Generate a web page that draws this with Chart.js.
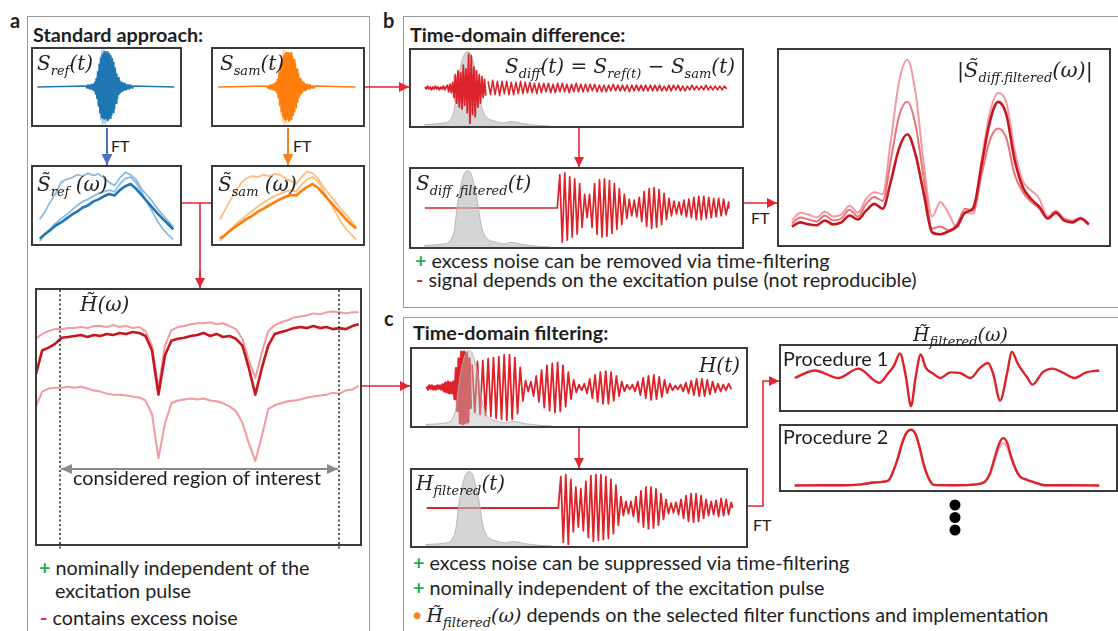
<!DOCTYPE html>
<html><head><meta charset="utf-8">
<script src="https://cdn.jsdelivr.net/npm/chart.js@4.4.1/dist/chart.umd.min.js"></script>
<style>
html,body{margin:0;padding:0;background:#fff;}
#root{position:relative;width:1118px;height:631px;overflow:hidden;font-family:Lato,"Open Sans",sans-serif;color:#1e1e1e;background:#fff;}
.panel{position:absolute;border:1.5px solid #9a9a9a;box-sizing:border-box;}
.box{position:absolute;border:2px solid #3a3a3a;box-sizing:border-box;background:#fff;}
.box canvas{position:absolute;left:0;top:0;}
.t{position:absolute;white-space:nowrap;font-size:19.8px;line-height:24px;}
.h{position:absolute;white-space:nowrap;font-size:19.8px;font-weight:700;line-height:24px;}
.L{position:absolute;font-size:20px;font-weight:700;line-height:24px;}
.m{position:absolute;white-space:nowrap;font-family:"DejaVu Serif",serif;font-style:italic;font-size:20px;line-height:24px;color:#222;}
.m sub,.mi sub{font-size:13px;vertical-align:-5px;line-height:0;}
.mi{font-family:"DejaVu Serif",serif;font-style:italic;font-size:19px;}
.g{color:#1fae4a;font-weight:700;}
.r{color:#e3262f;font-weight:700;}
.o{color:#f08a24;font-size:14px;vertical-align:2px;}
svg{position:absolute;left:0;top:0;pointer-events:none;}
</style></head><body><div id="root"></div>
<script>
// ---------------- DATA ----------------
// S_ref(t), S_sam(t): burst samples (time step 0.5, start t=36), light overlay copies (start 42.25)
const srefSpan = [3, 96];
const srefBurst = [1,-1,2,-1,2,-2,2,-2,3,-3,3,-4,5,-7,9,-12,16,-20,24,-27,30,-32,34,-33,36,-34,37,-33,36,-35,37,-34,35,-33,33,-30,30,-27,26,-23,20,-17,14,-12,10,-8,7,-6,5,-5,4,-4,4,-3,3,-3,2,-2,2,-2,2,-1,1,-1,1];
const srefLight = [-6,8,-11,15,-19,24,-28,32,-35,38,-39,39,-38,38,-39,37,-36,33,-30,26,-22,18,-14,11,-9,7,-5,4,-4,3,-3,2,-2,2,-1,1,-1];
const ssamSpan = [3.5, 95];
const ssamBurst = [1,-1,1,-2,2,-2,2,-3,3,-3,4,-4,5,-6,8,-11,15,-19,23,-26,29,-31,33,-34,35,-35,36,-34,36,-36,35,-35,36,-34,32,-30,29,-26,25,-22,19,-16,14,-11,9,-8,7,-6,5,-4,4,-4,3,-3,3,-2,2,-2,2,-1,1,-1,1,-1,1];
const ssamLight = [-5,8,-12,16,-20,25,-29,33,-36,38,-39,38,-39,37,-38,36,-35,32,-29,25,-21,17,-13,10,-8,6,-5,4,-3,3,-2,2,-2,1,-1,1,-1];

// spectra |S_ref(w)|, |S_sam(w)| (26 points, frequency 0..100 step 4)
const refLight1 = [0.32,0.42,0.55,0.66,0.8,0.84,0.86,0.9,0.88,0.92,0.89,0.91,0.86,0.8,0.76,0.86,0.93,0.9,0.84,0.72,0.64,0.56,0.46,0.38,0.3,0.22];
const refDark   = [0.07,0.13,0.18,0.24,0.28,0.33,0.38,0.42,0.47,0.5,0.55,0.58,0.62,0.65,0.63,0.7,0.75,0.78,0.72,0.64,0.56,0.48,0.4,0.33,0.26,0.19];
const refLight2 = [0.04,0.12,0.2,0.27,0.33,0.38,0.44,0.5,0.55,0.58,0.62,0.66,0.68,0.7,0.68,0.78,0.85,0.87,0.8,0.68,0.55,0.43,0.3,0.2,0.12,0.06];
const samLight1 = [0.32,0.45,0.58,0.7,0.8,0.86,0.88,0.87,0.9,0.88,0.91,0.9,0.85,0.82,0.78,0.87,0.94,0.92,0.85,0.74,0.65,0.56,0.47,0.39,0.31,0.22];
const samDark   = [0.07,0.12,0.18,0.23,0.28,0.33,0.37,0.42,0.46,0.5,0.54,0.58,0.61,0.64,0.63,0.69,0.74,0.78,0.73,0.65,0.57,0.49,0.41,0.33,0.26,0.2];
const samLight2 = [0.04,0.11,0.19,0.26,0.32,0.38,0.43,0.49,0.54,0.58,0.62,0.65,0.68,0.7,0.68,0.77,0.84,0.87,0.81,0.69,0.56,0.44,0.31,0.21,0.13,0.06];

// H(w) (51 points, frequency -0.4..99.6 step 2)
const hwTop  = [80.8,82.7,83.8,84.6,84.6,85.0,85.0,85.4,85.0,85.8,85.8,85.4,86.2,85.4,85.8,85.0,85.4,83.8,78.1,61.5,78.1,84.2,85.4,85.8,86.5,86.9,86.9,87.3,86.5,86.9,85.8,84.6,80.8,72.3,65.4,75.4,83.8,86.2,87.3,88.1,89.2,89.6,90.0,90.8,90.4,91.2,91.5,91.2,90.8,91.2,91.2];
const hwDark = [66.5,76.2,77.3,78.8,81.2,81.5,81.9,82.3,81.5,82.3,81.9,82.7,82.3,83.1,82.7,83.5,83.1,81.9,76.2,58.8,74.2,80.0,80.8,81.2,81.9,82.3,83.1,81.9,82.7,81.5,81.9,80.8,78.1,69.2,58.8,69.2,78.1,82.7,83.5,84.2,85.0,85.4,85.0,85.8,85.0,85.4,84.6,85.0,84.6,85.8,86.5];
const hwBot  = [53.8,60.0,61.2,61.5,61.5,61.9,61.5,61.9,61.2,60.4,60.0,59.2,58.8,58.8,58.5,58.1,57.7,56.5,51.2,33.8,47.3,55.4,56.5,56.9,57.3,56.9,57.3,56.5,56.2,55.4,54.2,52.3,47.7,39.6,32.7,42.3,53.1,54.6,55.4,56.2,56.5,56.9,57.7,58.1,58.5,58.8,59.6,59.2,60.4,60.8,62.3];
const roiBounds = [60, 339];

// excitation pulse envelope (grey), shared by the time-domain panels
const pulseT = [4,8,11,12,13,14,15,16,17,18,19,20,21,22,23,24,26,28,30,32,34,38,42];
const pulseA = [0.02,0.03,0.05,0.09,0.2,0.55,0.8,0.95,1.0,0.97,0.82,0.62,0.33,0.17,0.11,0.08,0.06,0.04,0.06,0.05,0.03,0.01,0];

// S_diff(t): head (step 0.4 from 4.2), light burst (step 0.3 from 13), tail (step 0.7 from 23.3)
const sdHead = [1,-1,2,-1,1,-2,1,-1,2,-1,1,-2,1,-1,2,-2,1,3,-4,4,-5,6,-10,14,-16,18,-20,16,-22,24,-18,20,-26,36,-37,34,-28,22,-30,18,-20,14,-16,12,-10,9,-8];
const sdLight = [13,-14,12,-15,14,-13,15,-14,13,-15,14,-12,15,-14,13,-15,12,-14,13,-12,10,-11,8,-9,6];
const sdTail = [7,-7,8,-7,7,-8,7,-6,7,-7,6,-7,6,-6,7,-6,6,
 -5,6,-5,5,-6,5,-5,5,-4,5,-5,4,-5,5,-4,5,-4,4,-5,4,-4,5,-4,4,-4,4,-4,4,-3,4,-4,3,-4,
 3,-4,3,-3,4,-3,3,-3,3,-3,3,-4,3,-3,3,-3,3,-3,3,-3,3,-3,3,-3,3,-3,2,-3,3,-3,3,-2,3,-3,
 2,-3,2,-2,3,-2,2,-2,2,-2,3,-2,2,-2,2,-2,2,-2,2,-1];

// S_diff,filtered(t): zero until 44.2, then step 0.75
const sdfStart = 44.2;
const sdfVals = [0,34,-35,36,-33,32,-30,30,-27,25,-20,14,-10,14,-20,25,-27,29,-30,30,-29,28,-26,25,-22,20,-17,14,-11,9,-8,8,-9,11,-14,17,-19,20,-21,21,-20,19,-17,15,-12,10,-8,7,-6,6,-7,8,-9,9,-10,11,-12,12,-12,12,-11,11,-10,10,-9,10,-8,9,-7,6];

// |S_diff,filtered(w)| (37 points, frequency 3.9 step 2.5)
const sdwLightA = [12.6,16.6,15.6,14.1,17.1,14.6,15.6,20.1,16.6,23.6,27.1,26.1,53.8,83.9,95.0,77.9,41.2,14.6,22.1,16.1,9.0,16.6,16.1,43.7,67.8,77.9,72.9,48.7,32.7,28.1,23.6,14.6,17.6,13.6,12.6,14.1,11.1];
const sdwLightB = [11.1,14.1,13.1,12.1,15.1,12.6,13.6,18.1,14.6,21.1,24.6,22.6,43.7,66.3,73.4,61.3,33.7,8.5,9.5,7.5,10.6,18.6,17.6,36.2,53.8,59.8,54.8,36.2,27.1,22.1,18.6,13.6,16.6,12.6,11.6,13.6,10.6];
const sdwDark   = [9.5,11.6,10.6,10.1,12.6,10.6,11.6,15.1,13.1,17.6,21.1,18.6,32.7,49.7,56.8,46.2,26.1,6.5,5.5,7.0,9.5,16.6,19.1,41.2,63.3,73.4,66.8,43.7,29.6,23.6,19.6,13.6,16.6,12.6,11.6,13.6,10.6];

// H(t): head (step 0.4 from 4.4), tail (step 0.8 from 18.0)
const hHead = [1,-2,2,-1,2,-2,1,-2,2,-1,2,-2,3,-4,5,-5,6,-6,5,-6,6,-12,20,-24,30,-37,37,-38,37,-37,36,-36,30,-22];
const hTail = [24,-26,27,-28,28,-29,30,-30,31,-32,32,-33,34,-34,34,-33,31,-27,21,-14,7,-4,
 6,-9,12,-15,18,-21,23,-24,25,-26,26,-25,23,-20,16,-12,8,-5,3,-3,
 4,-6,9,-11,13,-15,16,-17,17,-17,16,-14,12,-9,6,-4,3,-2,3,
 -4,6,-8,10,-11,12,-13,13,-12,11,-10,8,-6,4,-3,2,-2,3,
 -4,5,-6,7,-8,9,-9,9,-9,8,-7,6,-5,4,-4,3,-3,4,-2];

// H_filtered(t): zero until 43.8, then step 0.75
const hfStart = 43.8;
const hfVals = [0,33,-36,35,-38,30,-25,22,-20,20,-24,28,-31,34,-35,35,-34,35,-33,33,-32,30,-27,24,-18,12,-8,7,-6,7,-9,12,-15,18,-20,22,-22,22,-21,20,-18,15,-12,9,-6,5,-5,6,-7,9,-11,13,-14,15,-15,15,-14,13,-11,9,-8,7,-7,8,-9,10,-8,9,-7,6];

// H_filtered(w), procedures 1 and 2
const proc1F = [4.1,10.1,17.2,23.1,29.3,32.0,33.7,35.5,37.3,38.8,40.2,41.7,43.2,45.3,47.6,50.6,53.6,56.5,59.5,61.8,63.3,65.4,67.5,68.9,70.7,73.4,75.1,78.1,81.1,84.0,87.6,91.1,95.0];
const proc1A = [50,61.8,50,64.7,42.6,57.4,69.1,88.2,51.5,5.9,51.5,86.8,66.2,57.4,50,58.8,57.4,50,66.2,73.5,57.4,14.7,57.4,91.2,72.1,51.5,39.7,58.8,64.7,58.8,50,58.8,61.8];
const proc2F = [4.1,12.1,18.0,24.0,27.8,32.0,33.7,34.9,36.1,37.3,38.8,40.2,41.4,42.6,44.1,45.6,51.5,56.5,59.5,60.9,62.4,63.6,65.1,66.3,67.5,68.6,70.1,71.3,73.4,75.7,78.7,87.0,95.0];
const proc2A = [7,7.4,7.4,8.8,11.8,14.7,32,50,72,88,94,87,66,40,18,8,7.4,8,10,13,26,47,72,81,74,54,32,21,16,12,7.4,7.4,7];
const proc2B = [7,7.4,7.4,8.8,11.8,14.7,32,50,72,88,95,87,66,40,18,8,7.4,8,10,13,25,44,66,73,67,50,31,21,16,12,7.4,7.4,7];

// ---------------- HELPERS ----------------
const RED='#dc2329', REDD='#c8161f', PINK='#f29aa0', PINK2='#e9737b';
const BLUE='#1f77b4', BLUEL='rgba(31,119,180,0.38)', BLUEM='#8dbbe0';
const ORG='#ff7f0e', ORGL='rgba(255,127,14,0.38)', ORGM='#ffbd7d';
const root=document.getElementById('root');
function seq(t0,dt,vals){return vals.map((v,i)=>({x:+(t0+i*dt).toFixed(3),y:v}));}
function pairs(ts,vs){return ts.map((t,i)=>({x:t,y:vs[i]}));}
function sig(span,t0,dt,vals){return [{x:span[0],y:0}].concat(seq(t0,dt,vals),[{x:span[1],y:0}]);}
function L(data,color,w,o,extra){return Object.assign({data,borderColor:color,borderWidth:w,pointRadius:0,fill:false,tension:0,order:o,borderJoinStyle:'round'},extra||{});}
function pulseDS(o,alpha){return {data:pairs(pulseT,pulseA),yAxisID:'yp',borderColor:'rgba(175,175,175,0.85)',borderWidth:1,backgroundColor:`rgba(188,188,188,${alpha||0.62})`,fill:'origin',pointRadius:0,tension:0.35,order:o};}
function box(id,x,y,w,h){const d=document.createElement('div');d.className='box';d.style.cssText=`left:${x}px;top:${y}px;width:${w}px;height:${h}px`;const c=document.createElement('canvas');c.id=id;c.width=w-4;c.height=h-4;d.appendChild(c);root.appendChild(d);}
function chart(id,datasets,xr,yr,extra){
  const scales={x:{type:'linear',display:false,min:xr[0],max:xr[1]},y:{type:'linear',display:false,min:yr[0],max:yr[1]}};
  if(extra) scales.yp={type:'linear',display:false,min:0,max:1.02};
  new Chart(document.getElementById(id),{type:'line',data:{datasets},options:{responsive:false,animation:false,events:[],
    plugins:{legend:{display:false},tooltip:{enabled:false}},layout:{padding:0},scales}});
}
function add(html){root.insertAdjacentHTML('beforeend',html);}

// panels
add('<div class="panel" style="left:27px;top:16px;width:343px;height:700px"></div>');
add('<div class="panel" style="left:403px;top:16px;width:800px;height:292px"></div>');
add('<div class="panel" style="left:403px;top:317px;width:800px;height:400px"></div>');

// boxes
box('cSref',31,47,151,80); box('cSsam',211,47,154,80);
box('cSrefW',31,165,151,81); box('cSsamW',211,165,154,81);
box('cHw',35,288,327,258);
box('cSd',409,48,335,80); box('cSdf',409,167,335,82); box('cSdw',777,48,334,199);
box('cHt',410,347,338,81); box('cHf',410,468,338,80);
box('cP1',779,344,339,68); box('cP2',779,424,339,68);

// ---------------- CHARTS ----------------
chart('cSref',[L(seq(42.25,0.5,srefLight),BLUEL,1.3,0),L(sig(srefSpan,36,0.5,srefBurst),BLUE,1.5,1)],[0,100],[-40,40]);
chart('cSsam',[L(seq(42.25,0.5,ssamLight),ORGL,1.3,0),L(sig(ssamSpan,36,0.5,ssamBurst),ORG,1.5,1)],[0,100],[-40,40]);
chart('cSrefW',[L(seq(0,4,refDark),BLUE,2.6,0),L(seq(0,4,refLight1),BLUEM,1.8,1),L(seq(0,4,refLight2),BLUEM,1.8,2)],[-5,105],[0,1]);
chart('cSsamW',[L(seq(0,4,samDark),ORG,2.6,0),L(seq(0,4,samLight1),ORGM,1.8,1),L(seq(0,4,samLight2),ORGM,1.8,2)],[-5,105],[0,1]);
chart('cHw',[L(seq(-0.4,2,hwDark),REDD,2.6,0),L(seq(-0.4,2,hwTop),PINK,2,1),L(seq(-0.4,2,hwBot),PINK,2,2)],[0,100],[0,100]);
chart('cSd',[
  L(seq(4.2,0.4,sdHead),RED,1.8,0),
  L(seq(13,0.3,sdLight),'rgba(232,90,98,0.55)',1.5,1),
  L(seq(23.3,0.7,sdTail),RED,1.6,0),
  pulseDS(5)],[0,100],[-40,40],true);
chart('cSdf',[pulseDS(0),L(sig([4.2,96],sdfStart,0.75,sdfVals),RED,1.7,2)],[0,100],[-40,40],true);
const smooth={cubicInterpolationMode:'monotone'};
chart('cSdw',[L(seq(3.9,2.5,sdwDark),REDD,2.6,0,smooth),L(seq(3.9,2.5,sdwLightB),PINK2,2,1,smooth),L(seq(3.9,2.5,sdwLightA),PINK,2,2,smooth)],[0,100],[0,100]);
chart('cHt',[pulseDS(0,0.45),L(seq(4.4,0.4,hHead),RED,2.6,2),L(seq(18.0,0.8,hTail),RED,1.8,2)],[0,100],[-40,40],true);
chart('cHf',[pulseDS(0),L(sig([4.4,96],hfStart,0.75,hfVals),RED,1.8,2)],[0,100],[-40,40],true);
chart('cP1',[L(pairs(proc1F,proc1A),RED,2.4,0,smooth)],[0,100],[0,100]);
chart('cP2',[L(pairs(proc2F,proc2A),RED,2.4,0,smooth),L(pairs(proc2F,proc2B),'rgba(214,40,48,0.35)',2.4,1,smooth)],[0,100],[0,100]);

// ---------------- TEXT ----------------
add('<div class="L" style="left:10px;top:8px">a</div><div class="L" style="left:383px;top:8px">b</div><div class="L" style="left:384px;top:306px">c</div>');
add('<div class="h" style="left:33px;top:22px">Standard approach:</div>');
add('<div class="h" style="left:410px;top:22px">Time-domain difference:</div>');
add('<div class="h" style="left:413px;top:320px">Time-domain filtering:</div>');
add('<div class="t" style="left:111px;top:136px;font-size:16px;line-height:20px">FT</div>');
add('<div class="t" style="left:293px;top:136px;font-size:16px;line-height:20px">FT</div>');
add('<div class="t" style="left:751px;top:208px;font-size:16px;line-height:20px">FT</div>');
add('<div class="t" style="left:753px;top:515px;font-size:16px;line-height:20px">FT</div>');
add('<div class="m" style="left:37px;top:51px">S<sub>ref</sub>(t)</div>');
add('<div class="m" style="left:220px;top:51px">S<sub>sam</sub>(t)</div>');
add('<div class="m" style="left:37px;top:172px">S̃<sub>ref</sub> (ω)</div>');
add('<div class="m" style="left:218px;top:172px">S̃<sub>sam</sub> (ω)</div>');
add('<div class="m" style="left:80px;top:292px">H̃(ω)</div>');
add('<div class="m" style="right:383px;top:54px">S<sub>diff</sub>(t) = S<sub>ref(t)</sub> − S<sub>sam</sub>(t)</div>');
add('<div class="m" style="left:416px;top:171px">S<sub>diff ,filtered</sub>(t)</div>');
add('<div class="m" style="left:957px;top:58px;font-size:21px">|S̃<sub>diff.filtered</sub>(ω)|</div>');
add('<div class="m" style="right:378px;top:353px">H(t)</div>');
add('<div class="m" style="left:416px;top:471px">H<sub>filtered</sub>(t)</div>');
add('<div class="m" style="left:913px;top:322px;font-size:19px">H̃<sub>filtered</sub>(ω)</div>');
add('<div class="t" style="left:783px;top:346px">Procedure 1</div>');
add('<div class="t" style="left:783px;top:424px">Procedure 2</div>');
add('<div class="t" style="left:197px;top:465px;transform:translateX(-50%)">considered region of interest</div>');
add('<div class="t" style="left:39px;top:555px"><span class="g">+</span> nominally independent of the</div>');
add('<div class="t" style="left:55px;top:578px">excitation pulse</div>');
add('<div class="t" style="left:40px;top:605px"><span class="r">-</span> contains excess noise</div>');
add('<div class="t" style="left:415px;top:248px"><span class="g">+</span> excess noise can be removed via time-filtering</div>');
add('<div class="t" style="left:416px;top:267px"><span class="r">-</span> signal depends on the excitation pulse (not reproducible)</div>');
add('<div class="t" style="left:413px;top:550px"><span class="g">+</span> excess noise can be suppressed via time-filtering</div>');
add('<div class="t" style="left:413px;top:575px"><span class="g">+</span> nominally independent of the excitation pulse</div>');
add('<div class="t" style="left:413px;top:602px"><span class="o">●</span> <span class="mi">H̃<sub>filtered</sub>(ω)</span> depends on the selected filter functions and implementation</div>');

// ---------------- ARROWS / GUIDES ----------------
const A='#e3262f';
add(`<svg width="1118" height="631" viewBox="0 0 1118 631">
<defs>
<marker id="mr" markerUnits="userSpaceOnUse" markerWidth="10" markerHeight="10" refX="10" refY="5" orient="auto"><path d="M0,0 L10,5 L0,10 z" fill="${A}"/></marker>
<marker id="mb" markerUnits="userSpaceOnUse" markerWidth="11" markerHeight="11" refX="11" refY="5.5" orient="auto"><path d="M0,0 L11,5.5 L0,11 z" fill="#4a72c0"/></marker>
<marker id="mo" markerUnits="userSpaceOnUse" markerWidth="11" markerHeight="11" refX="11" refY="5.5" orient="auto"><path d="M0,0 L11,5.5 L0,11 z" fill="#f58220"/></marker>
<marker id="mg" markerUnits="userSpaceOnUse" markerWidth="11" markerHeight="10" refX="11" refY="5" orient="auto-start-reverse"><path d="M0,0 L11,5 L0,10 z" fill="#8a8a8a"/></marker>
</defs>
<g fill="none">
<path d="M107,128 L107,165" stroke="#4a72c0" stroke-width="2" marker-end="url(#mb)"/>
<path d="M288,128 L288,165" stroke="#f58220" stroke-width="2" marker-end="url(#mo)"/>
<path d="M182,203 L211,203 M200,203 L200,282" stroke="${A}" stroke-width="1.6"/>
<path d="M200,270 L200,288" stroke="${A}" stroke-width="1.6" marker-end="url(#mr)"/>
<path d="M365,87 L409,87" stroke="${A}" stroke-width="1.6" marker-end="url(#mr)"/>
<path d="M579,128 L579,167" stroke="${A}" stroke-width="1.6" marker-end="url(#mr)"/>
<path d="M744,203 L777,203" stroke="${A}" stroke-width="1.6" marker-end="url(#mr)"/>
<path d="M362,386 L410,386" stroke="${A}" stroke-width="1.6" marker-end="url(#mr)"/>
<path d="M579,428 L579,468" stroke="${A}" stroke-width="1.6" marker-end="url(#mr)"/>
<path d="M748,506 L763,506 L763,381 L779,381" stroke="${A}" stroke-width="1.6" marker-end="url(#mr)"/>
<path d="M${roiBounds[0]},290 L${roiBounds[0]},550 M${roiBounds[1]},290 L${roiBounds[1]},550" stroke="#222" stroke-width="1.5" stroke-dasharray="2 2.5"/>
<path d="M${roiBounds[0]+1},469 L${roiBounds[1]-1},469" stroke="#8a8a8a" stroke-width="2" marker-start="url(#mg)" marker-end="url(#mg)"/>
</g>
<g fill="#000"><circle cx="955" cy="505" r="5.5"/><circle cx="955" cy="517.5" r="5.5"/><circle cx="955" cy="530" r="5.5"/></g>
</svg>`);
</script></body></html>
